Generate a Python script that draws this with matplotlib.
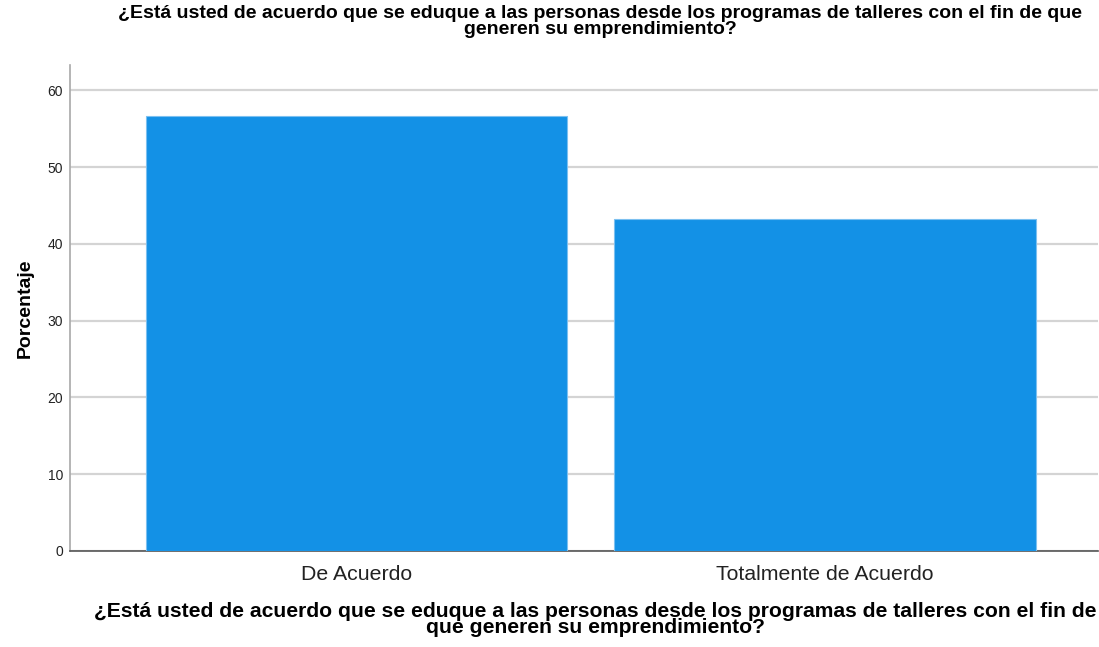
import matplotlib
matplotlib.use("Agg")
import matplotlib.pyplot as plt

categories = ["De Acuerdo", "Totalmente de Acuerdo"]
values = [56.7, 43.3]
yticks = [0, 10, 20, 30, 40, 50, 60]
title = "¿Está usted de acuerdo que se eduque a las personas desde los programas de talleres con el fin de que\ngeneren su emprendimiento?"
xlabel = "¿Está usted de acuerdo que se eduque a las personas desde los programas de talleres con el fin de\nque generen su emprendimiento?"
ylabel = "Porcentaje"

plt.rcParams['font.family'] = ['Liberation Sans', 'DejaVu Sans']

fig = plt.figure(figsize=(10.99, 6.47), dpi=100)
ax = fig.add_axes([0.0637, 0.1484, 0.9353, 0.7511])

x = list(range(len(categories)))
ax.bar(x, values, width=0.9, color="#1391e6", edgecolor="#7cc0f0", linewidth=0.8, zorder=3)

ax.set_xlim(-0.612, 1.583)
ax.set_ylim(0, 63.3)
ax.set_yticks(yticks)
ax.set_yticklabels([str(t) for t in yticks], fontsize=10, color="#222222")
ax.set_xticks(x)
ax.set_xticklabels(categories, fontsize=15.3, color="#222222")
ax.tick_params(axis='y', length=0, pad=5)
ax.tick_params(axis='x', length=0, pad=10)

ax.yaxis.grid(True, color="#d4d4d4", linewidth=1.6, zorder=0)
ax.set_axisbelow(True)
for s in ["top", "right"]:
    ax.spines[s].set_visible(False)
ax.spines["left"].set_color("#a8a8a8")
ax.spines["left"].set_linewidth(1.2)
ax.spines["bottom"].set_color("#555555")
ax.spines["bottom"].set_linewidth(1.2)

ax.set_ylabel(ylabel, fontsize=14, fontweight="bold", labelpad=10)

fig.text(595 / 1099, 1 - 602 / 647, xlabel, ha="center", va="top", fontsize=15.2,
         fontweight="bold", linespacing=0.8, transform=fig.transFigure)

fig.text(600 / 1099, 0.992, title, ha="center", va="top", fontsize=14, fontweight="bold",
         linespacing=0.88, transform=fig.transFigure)

fig.savefig("out.png", dpi=100, facecolor="white")
